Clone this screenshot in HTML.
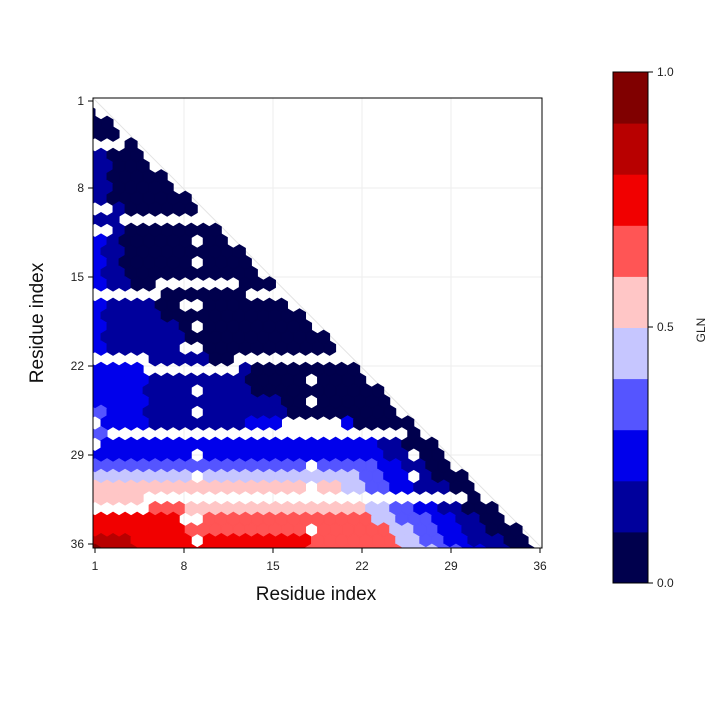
<!DOCTYPE html>
<html><head><meta charset="utf-8">
<style>
body{margin:0;background:#fff;}
svg text{font-family:"Liberation Sans",sans-serif;}
</style></head>
<body>
<svg id="s" width="720" height="720" xmlns="http://www.w3.org/2000/svg">
<defs><clipPath id="c"><rect x="93" y="98" width="449" height="450"/></clipPath></defs>
<rect width="720" height="720" fill="#fff"/>
<g stroke="#eeeeee" stroke-width="1">
<line x1="184" y1="98" x2="184" y2="548"/><line x1="273" y1="98" x2="273" y2="548"/><line x1="362" y1="98" x2="362" y2="548"/><line x1="451" y1="98" x2="451" y2="548"/>
<line x1="93" y1="188" x2="542" y2="188"/><line x1="93" y1="277" x2="542" y2="277"/><line x1="93" y1="366" x2="542" y2="366"/><line x1="93" y1="455" x2="542" y2="455"/>
</g>
<line x1="93" y1="98" x2="542" y2="548" stroke="#e4e4e4" stroke-width="1"/>
<g id="h" clip-path="url(#c)"></g>
<rect x="93" y="98" width="449" height="450" fill="none" stroke="#000" stroke-width="1"/>
<g stroke="#000" stroke-width="1">
<line x1="95" y1="548" x2="95" y2="553"/><line x1="184" y1="548" x2="184" y2="553"/><line x1="273" y1="548" x2="273" y2="553"/><line x1="362" y1="548" x2="362" y2="553"/><line x1="451" y1="548" x2="451" y2="553"/><line x1="540" y1="548" x2="540" y2="553"/>
<line x1="88" y1="101" x2="93" y2="101"/><line x1="88" y1="188" x2="93" y2="188"/><line x1="88" y1="277" x2="93" y2="277"/><line x1="88" y1="366" x2="93" y2="366"/><line x1="88" y1="455" x2="93" y2="455"/><line x1="88" y1="544" x2="93" y2="544"/>
</g>
<g font-size="12" fill="#222" text-anchor="middle">
<text x="95" y="570">1</text><text x="184" y="570">8</text><text x="273" y="570">15</text><text x="362" y="570">22</text><text x="451" y="570">29</text><text x="540" y="570">36</text>
</g>
<g font-size="12" fill="#222" text-anchor="end">
<text x="84" y="105">1</text><text x="84" y="192">8</text><text x="84" y="281">15</text><text x="84" y="370">22</text><text x="84" y="459">29</text><text x="84" y="548">36</text>
</g>
<text x="316" y="600" font-size="19" text-anchor="middle" fill="#111">Residue index</text>
<text transform="translate(43,323) rotate(-90)" font-size="19" text-anchor="middle" fill="#111">Residue index</text>
<g id="cb"></g>
<rect x="613" y="72" width="35" height="511" fill="none" stroke="#000" stroke-width="1"/>
<g stroke="#000"><line x1="648" y1="72" x2="653" y2="72"/><line x1="648" y1="327" x2="653" y2="327"/><line x1="648" y1="583" x2="653" y2="583"/></g>
<g font-size="12" fill="#222"><text x="657" y="76">1.0</text><text x="657" y="331">0.5</text><text x="657" y="587">0.0</text></g>
<text transform="translate(705,330) rotate(-90)" font-size="12" text-anchor="middle" fill="#222">GLN</text>
</svg>
<script>
var C=["#00004d","#00009c","#0000eb","#5555ff","#c6c6ff","#ffc6c6","#ff5555","#f10000","#b80000","#800000"];
var ns="http://www.w3.org/2000/svg";
var cb=document.getElementById("cb");
for(var i=0;i<10;i++){var r=document.createElementNS(ns,"rect");r.setAttribute("x",613);r.setAttribute("y",72+(9-i)*51.1);r.setAttribute("width",35);r.setAttribute("height",51.6);r.setAttribute("fill",C[i]);cb.appendChild(r);}
var sx=12.03,rs=10.7,sy=2*rs,y0=102;
// gap rows: [row k, pxmin, pxmax]
var gaps=[[4,90,128],[10,90,113],[11,120,210],[12,90,113],
[18,90,155],[17,155,240],[18,245,285],
[24,90,150],[25,150,233],[24,233,350],
[30,90,105],[32,90,105],[31,105,400],[30,278,340],
[38,90,150],[37,150,470]];
// dots: [px, row k]
var dots=[[203,13],[203,15],[190,19],[203,19],[203,21],[190,23],[203,23],[203,27],[203,29],[203,33],[203,35],[203,41],[190,39],[203,39],[317,26],[317,28],[418,33],[418,35],[317,34],[317,36],[317,40],[278,31],[340,31]];
function isGap(px,k){
 for(var g of gaps){if(g[0]==k&&px>=g[1]-2&&px<=g[2]+2)return true;}
 for(var d of dots){if(d[1]==k&&Math.abs(px-d[0])<sx/2)return true;}
 return false;}
function L(X,Y){
 var d=Y-X;
 if(Y<22){
  if(Y<5)return 0;
  if(X<=1.5&&Y>=11)return 2;
  var b1=Y<15?3:3+(Y-15)*1.15;
  if(Y<9)b1=2;
  if(X<=b1)return 1; return 0;}
 if(Y<28){
  if(X<=1.5&&Y>=25)return 3;
  if(X<=5)return 2;
  if(X<=13)return 1;
  if(Y>=26&&X<=21){if(Y>=27&&X>=16&&X<=20)return 1;return 2;}
  if(Y>=24&&X<=16)return 1;
  return 0;}
 var b;
 if(Y<29.5)b=2;else if(Y<30.5)b=3;else if(Y<31.5)b=4;else if(Y<32.5)b=5;else if(Y<33.5)b=6;else if(Y<35.5)b=7;else b=8;
 if(Y>=33&&Y<35.5&&X>8)b-=1;
 if(Y>=32&&Y<33&&X>9)b=5;
 if(Y>=35.5&&X>4)b=7;
 if(Y>=35.5&&X>18)b=6;
 if(Y>=36&&X<=1.5)b=9;
 var r;if(d<3)r=0;else if(d<5)r=1;else if(d<7)r=2;else if(d<9)r=3;else if(d<11)r=4;else r=9;
 return Math.min(b,r);}
var h=document.getElementById("h"),out="";
for(var k=0;k<=43;k++){
 var py=y0+k*rs; if(py>556)break;
 var off=(k%2==0)?0:sx/2;
 for(var px=95+off-(k%2?sx:0);px<=py-12;px+=sx){
  if(isGap(px,k))continue;
  var X=1+(px-95)/12.71,Y=1+(py-101)/12.66;
  var c=C[L(X,Y)];
  var a=sx/2,b1=sy/6,b2=sy/3;
  out+='<polygon points="'+(px+a)+','+(py-b1)+' '+(px+a)+','+(py+b1)+' '+px+','+(py+b2)+' '+(px-a)+','+(py+b1)+' '+(px-a)+','+(py-b1)+' '+px+','+(py-b2)+'" fill="'+c+'" stroke="'+c+'" stroke-width="1"/>';
 }}
h.innerHTML=out;
</script>
</body></html>
